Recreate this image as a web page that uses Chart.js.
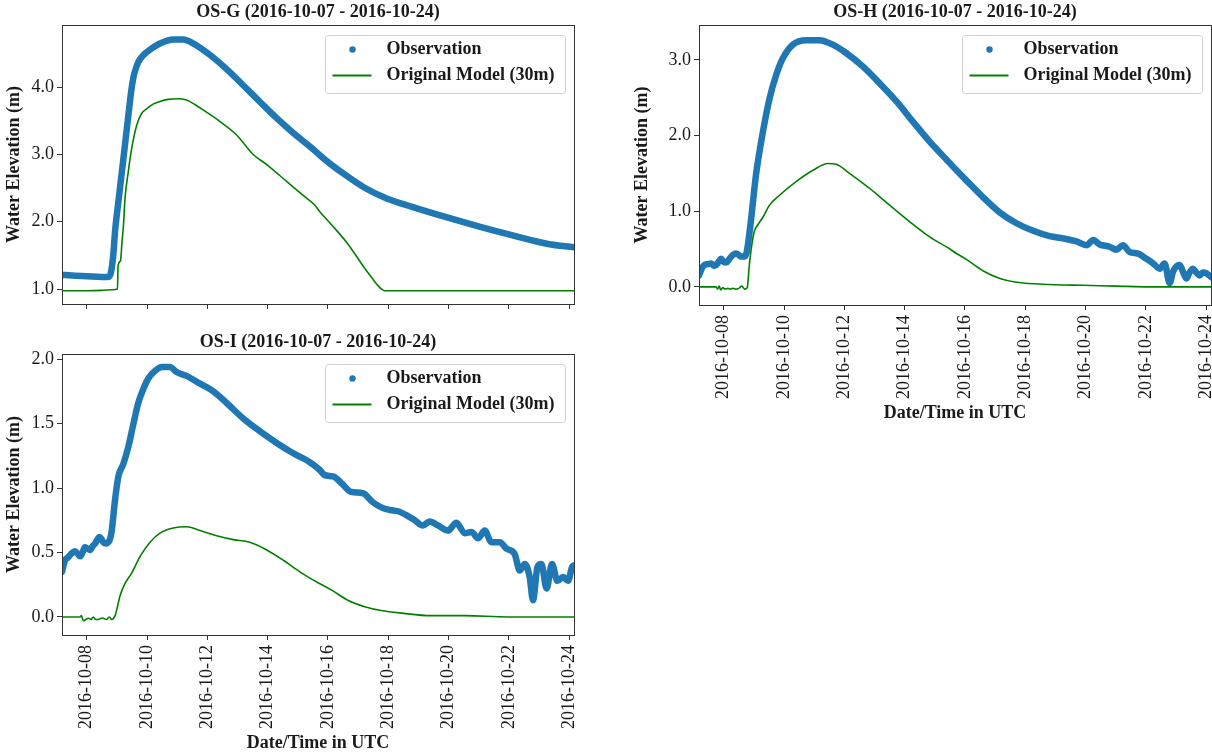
<!DOCTYPE html>
<html>
<head>
<meta charset="utf-8">
<script src="https://cdn.jsdelivr.net/npm/chart.js@4.4.1/dist/chart.umd.min.js"></script>
<style>
  html, body { margin: 0; padding: 0; background: #ffffff; }
  body { width: 1212px; height: 755px; position: relative; overflow: hidden; }
  .panel { position: absolute; }
</style>
</head>
<body>
<div class="panel" style="left:0px;top:0px;width:600px;height:320px"><canvas id="osg"></canvas></div>
<div class="panel" style="left:0px;top:320px;width:600px;height:435px"><canvas id="osi"></canvas></div>
<div class="panel" style="left:600px;top:0px;width:612px;height:425px"><canvas id="osh"></canvas></div>
<script>
// Time axis: days since 2016-10-07 00:00 UTC
const dateTickDays   = [1, 3, 5, 7, 9, 11, 13, 15, 17];
const dateTickLabels = ['2016-10-08', '2016-10-10', '2016-10-12', '2016-10-14', '2016-10-16',
                        '2016-10-18', '2016-10-20', '2016-10-22', '2016-10-24'];
const seriesNames = ['Observation', 'Original Model (30m)'];

// ---- OS-G ----
const osgObsDays  = [0.18, 0.5, 1.0, 1.5, 1.72, 1.80, 1.88, 1.94, 2.05, 2.16, 2.27, 2.38, 2.47, 2.55, 2.66,
                     2.77, 2.93, 3.10, 3.43, 3.87, 4.20, 4.54, 5.09, 5.64, 6.19, 6.75, 7.30, 7.85, 8.40,
                     8.73, 9.11, 9.66, 10.2, 10.93, 11.87, 12.98, 14.08, 15.19, 16.3, 17.16];
const osgObsLevel = [1.21, 1.20, 1.19, 1.18, 1.18, 1.24, 1.50, 1.86, 2.30, 2.72, 3.15, 3.58, 3.92, 4.15, 4.32,
                     4.42, 4.50, 4.56, 4.65, 4.71, 4.71, 4.65, 4.48, 4.27, 4.03, 3.78, 3.54, 3.32, 3.12,
                     2.99, 2.85, 2.67, 2.51, 2.35, 2.21, 2.06, 1.92, 1.79, 1.67, 1.62];
const osgModelDays  = [0.18, 1.0, 1.5, 1.85, 2.02, 2.04, 2.12, 2.17, 2.22, 2.27, 2.38, 2.49, 2.66, 2.82, 2.99,
                       3.20, 3.43, 3.70, 4.04, 4.31, 4.60, 4.87, 5.42, 5.97, 6.52, 6.97, 7.63, 8.29, 8.56,
                       8.73, 9.11, 9.66, 10.2, 10.45, 10.66, 10.80, 10.88, 17.16];
const osgModelLevel = [0.975, 0.975, 0.98, 0.99, 1.00, 1.35, 1.42, 1.70, 1.96, 2.35, 2.75, 3.09, 3.44, 3.61, 3.68,
                       3.75, 3.79, 3.82, 3.83, 3.81, 3.74, 3.66, 3.49, 3.29, 3.00, 2.85, 2.60, 2.35, 2.25,
                       2.15, 1.96, 1.67, 1.32, 1.17, 1.05, 0.99, 0.975, 0.975];
const osgYTicks = [1.0, 2.0, 3.0, 4.0];

// ---- OS-H ----
const oshObsDays  = [0.18, 0.28, 0.36, 0.47, 0.58, 0.68, 0.75, 0.85, 0.91, 1.00, 1.08, 1.19, 1.30, 1.41, 1.50,
                     1.58, 1.68, 1.75, 1.80, 1.91, 2.07, 2.30, 2.52, 2.74, 2.96, 3.29, 3.74, 4.18, 4.62,
                     5.06, 5.62, 6.17, 6.73, 7.28, 7.83, 8.39, 8.72, 9.06, 9.61, 10.16, 10.71, 11.26,
                     11.81, 12.26, 12.70, 13.03, 13.25, 13.47, 13.80, 14.02, 14.24, 14.46, 14.74, 15.02,
                     15.24, 15.46, 15.62, 15.79, 15.90, 16.01, 16.12, 16.23, 16.34, 16.45, 16.56, 16.67,
                     16.78, 16.89, 17.00, 17.16];
const oshObsLevel = [0.15, 0.25, 0.29, 0.30, 0.31, 0.28, 0.29, 0.34, 0.37, 0.33, 0.32, 0.37, 0.42, 0.44, 0.42,
                     0.40, 0.40, 0.44, 0.55, 0.90, 1.48, 2.05, 2.49, 2.80, 3.02, 3.20, 3.26, 3.26, 3.20,
                     3.09, 2.91, 2.69, 2.45, 2.18, 1.92, 1.68, 1.54, 1.40, 1.18, 0.98, 0.84, 0.74,
                     0.67, 0.64, 0.60, 0.55, 0.62, 0.56, 0.53, 0.49, 0.55, 0.46, 0.44, 0.37,
                     0.31, 0.24, 0.31, 0.05, 0.20, 0.27, 0.29, 0.20, 0.11, 0.19, 0.24, 0.19,
                     0.15, 0.19, 0.18, 0.13];
const oshModelDays  = [0.18, 0.75, 0.80, 0.85, 0.90, 0.97, 1.05, 1.13, 1.22, 1.30, 1.40, 1.50, 1.60, 1.70, 1.78,
                       1.85, 1.93, 2.02, 2.13, 2.30, 2.52, 2.85, 3.40, 3.96, 4.46, 4.73, 5.17, 5.84, 6.50,
                       7.17, 7.83, 8.50, 8.72, 9.06, 9.61, 10.16, 10.71, 11.81, 12.92, 14.02, 15.13, 17.16];
const oshModelLevel = [0.0, 0.0, -0.03, 0.01, -0.04, -0.01, -0.03, -0.02, -0.03, -0.02, -0.03, -0.02, 0.01, -0.03, -0.01,
                       0.29, 0.55, 0.74, 0.82, 0.92, 1.08, 1.21, 1.39, 1.54, 1.63, 1.62, 1.50, 1.30, 1.08,
                       0.86, 0.66, 0.50, 0.44, 0.36, 0.21, 0.11, 0.06, 0.03, 0.02, 0.01, 0.0, 0.0];
const oshYTicks = [0.0, 1.0, 2.0, 3.0];

// ---- OS-I ----
const osiObsDays  = [0.18, 0.28, 0.37, 0.45, 0.53, 0.61, 0.70, 0.78, 0.86, 0.94, 1.03, 1.11, 1.20, 1.28, 1.35,
                     1.42, 1.50, 1.55, 1.65, 1.72, 1.78, 1.83, 1.94, 2.05, 2.22, 2.38, 2.55, 2.71, 2.88,
                     3.04, 3.27, 3.49, 3.76, 3.98, 4.31, 4.76, 5.20, 5.64, 6.19, 6.75, 7.30, 7.85, 8.40,
                     8.73, 8.89, 9.17, 9.44, 9.77, 10.16, 10.49, 10.77, 11.05, 11.32, 11.60, 11.88, 12.15,
                     12.37, 12.65, 12.98, 13.26, 13.54, 13.76, 13.98, 14.20, 14.42, 14.70, 14.92, 15.19,
                     15.36, 15.53, 15.69, 15.80, 15.95, 16.08, 16.25, 16.43, 16.61, 16.80, 16.96, 17.10, 17.16];
const osiObsLevel = [0.35, 0.44, 0.46, 0.48, 0.50, 0.51, 0.49, 0.47, 0.50, 0.54, 0.53, 0.52, 0.55, 0.57, 0.60,
                     0.62, 0.60, 0.58, 0.57, 0.58, 0.61, 0.67, 0.91, 1.09, 1.19, 1.32, 1.50, 1.66, 1.77,
                     1.85, 1.91, 1.94, 1.94, 1.90, 1.87, 1.81, 1.75, 1.66, 1.54, 1.44, 1.35, 1.27, 1.20,
                     1.14, 1.10, 1.09, 1.04, 0.97, 0.96, 0.89, 0.85, 0.83, 0.82, 0.79, 0.75, 0.71,
                     0.74, 0.71, 0.67, 0.73, 0.65, 0.66, 0.61, 0.67, 0.58, 0.58, 0.53, 0.49,
                     0.36, 0.41, 0.31, 0.13, 0.39, 0.41, 0.22, 0.41, 0.28, 0.31, 0.28, 0.39, 0.40];
const osiModelDays  = [0.18, 0.78, 0.82, 0.89, 0.97, 1.06, 1.14, 1.22, 1.30, 1.39, 1.47, 1.55, 1.65, 1.75, 1.83,
                       1.94, 2.02, 2.10, 2.27, 2.49, 2.77, 3.10, 3.43, 3.87, 4.31, 4.76, 5.31, 5.86, 6.41,
                       6.97, 7.52, 8.07, 8.56, 9.11, 9.66, 10.22, 10.77, 11.43, 12.43, 13.54, 14.97, 17.16];
const osiModelLevel = [0.0, 0.0, 0.01, -0.03, -0.02, -0.01, -0.02, 0.0, -0.02, -0.02, -0.01, -0.01, -0.02, 0.0, -0.02,
                       0.01, 0.08, 0.16, 0.26, 0.34, 0.47, 0.58, 0.65, 0.69, 0.70, 0.67, 0.63, 0.60, 0.58,
                       0.52, 0.44, 0.35, 0.28, 0.21, 0.13, 0.08, 0.05, 0.03, 0.01, 0.01, 0.0, 0.0];
const osiYTicks = [0.0, 0.5, 1.0, 1.5, 2.0];

const INK = '#1a1a1a';
const OBS_BLUE = '#1f77b4';
const MODEL_GREEN = '#008000';
const SERIF = "'Liberation Serif', 'Times New Roman', serif";
Chart.defaults.font.family = SERIF;
Chart.defaults.color = INK;

// Axes frame on all four sides plus a boxed key in the upper-right corner
const frameAndKey = {
  id: 'frameAndKey',
  afterDraw(chart) {
    const ctx = chart.ctx;
    const a = chart.chartArea;
    ctx.save();
    ctx.strokeStyle = '#333333';
    ctx.lineWidth = 1;
    ctx.strokeRect(Math.round(a.left) + 0.5, Math.round(a.top) + 0.5,
                   Math.round(a.right - a.left), Math.round(a.bottom - a.top));

    const w = 240, h = 58;
    const x0 = Math.round(a.right) - 9 - w + 0.5;
    const y0 = Math.round(a.top) + 10 + 0.5;
    ctx.beginPath();
    ctx.roundRect(x0, y0, w, h, 3);
    ctx.fillStyle = 'rgba(255,255,255,0.8)';
    ctx.fill();
    ctx.strokeStyle = '#d0d0d0';
    ctx.stroke();

    const ds = chart.data.datasets;
    ctx.beginPath();
    ctx.arc(x0 + 27, y0 + 14, 3.2, 0, Math.PI * 2);
    ctx.fillStyle = OBS_BLUE;
    ctx.fill();
    ctx.beginPath();
    ctx.moveTo(x0 + 7, y0 + 40);
    ctx.lineTo(x0 + 46, y0 + 40);
    ctx.strokeStyle = MODEL_GREEN;
    ctx.lineWidth = 2;
    ctx.stroke();

    ctx.fillStyle = INK;
    ctx.font = 'bold 18px ' + SERIF;
    ctx.textBaseline = 'middle';
    ctx.textAlign = 'left';
    ctx.fillText(ds[0].label, x0 + 61, y0 + 14);
    ctx.fillText(ds[1].label, x0 + 61, y0 + 40);
    ctx.restore();
  }
};

function toPoints(days, level) {
  return days.map((d, i) => ({ x: d, y: level[i] }));
}

function makeChart(id, o) {
  return new Chart(document.getElementById(id), {
    type: 'line',
    data: {
      datasets: [
        {
          label: seriesNames[0],
          data: toPoints(o.obsDays, o.obsLevel),
          borderColor: OBS_BLUE,
          borderWidth: 6.5,
          borderCapStyle: 'round',
          borderJoinStyle: 'round',
          pointRadius: 0,
          cubicInterpolationMode: 'monotone',
          clip: 0,
          order: 2
        },
        {
          label: seriesNames[1],
          data: toPoints(o.modelDays, o.modelLevel),
          borderColor: MODEL_GREEN,
          borderWidth: 1.6,
          pointRadius: 0,
          cubicInterpolationMode: 'monotone',
          clip: 0,
          order: 1
        }
      ]
    },
    options: {
      responsive: true,
      maintainAspectRatio: false,
      animation: false,
      devicePixelRatio: 1,
      events: [],
      layout: { padding: { left: 0, right: o.padRight, top: 0, bottom: 0 } },
      plugins: {
        legend: { display: false },
        tooltip: { enabled: false },
        title: {
          display: true,
          text: o.title,
          fullSize: false,
          color: INK,
          font: { size: 18, weight: 'bold', family: SERIF, lineHeight: 1.2 },
          padding: { top: o.titleTop, bottom: o.titleBottom }
        }
      },
      scales: {
        x: {
          type: 'linear',
          min: 0.18,
          max: 17.16,
          afterBuildTicks: s => { s.ticks = dateTickDays.map(v => ({ value: v })); },
          afterFit: s => { s.height = o.xHeight; s.paddingLeft = 0; s.paddingRight = 0; },
          border: { display: false },
          grid: { drawOnChartArea: false, drawTicks: true, tickLength: 5, color: '#333333' },
          ticks: {
            autoSkip: false,
            minRotation: 90,
            maxRotation: 90,
            padding: 5,
            color: INK,
            font: { size: 18, family: SERIF },
            callback: (v) => o.showDates ? dateTickLabels[dateTickDays.indexOf(v)] : ''
          },
          title: {
            display: o.showDates,
            text: 'Date/Time in UTC',
            color: INK,
            font: { size: 18, weight: 'bold', family: SERIF, lineHeight: 1.2 },
            padding: { top: 0, bottom: 1 }
          }
        },
        y: {
          type: 'linear',
          min: o.yMin,
          max: o.yMax,
          afterBuildTicks: s => { s.ticks = o.yTicks.map(v => ({ value: v })); },
          afterFit: s => { s.width = o.yWidth; s.paddingTop = 0; s.paddingBottom = 0; },
          border: { display: false },
          grid: { drawOnChartArea: false, drawTicks: true, tickLength: 5, color: '#333333' },
          ticks: {
            padding: 3,
            color: INK,
            font: { size: 18, family: SERIF },
            callback: (v) => Number(v).toFixed(1)
          },
          title: {
            display: true,
            text: 'Water Elevation (m)',
            color: INK,
            font: { size: 18, weight: 'bold', family: SERIF, lineHeight: 1.2 },
            padding: { top: o.yTitlePad, bottom: 0 }
          }
        }
      }
    },
    plugins: [frameAndKey]
  });
}

makeChart('osg', {
  title: 'OS-G (2016-10-07 - 2016-10-24)',
  obsDays: osgObsDays, obsLevel: osgObsLevel,
  modelDays: osgModelDays, modelLevel: osgModelLevel,
  yMin: 0.777, yMax: 4.926, yTicks: osgYTicks,
  showDates: false, xHeight: 16, yWidth: 62, yTitlePad: 4,
  titleTop: 2, titleBottom: 1.4, padRight: 26
});

makeChart('osi', {
  title: 'OS-I (2016-10-07 - 2016-10-24)',
  obsDays: osiObsDays, obsLevel: osiObsLevel,
  modelDays: osiModelDays, modelLevel: osiModelLevel,
  yMin: -0.14, yMax: 2.04, yTicks: osiYTicks,
  showDates: true, xHeight: 120, yWidth: 62, yTitlePad: 4,
  titleTop: 11.2, titleBottom: 1.2, padRight: 26
});

makeChart('osh', {
  title: 'OS-H (2016-10-07 - 2016-10-24)',
  obsDays: oshObsDays, obsLevel: oshObsLevel,
  modelDays: oshModelDays, modelLevel: oshModelLevel,
  yMin: -0.24, yMax: 3.46, yTicks: oshYTicks,
  showDates: true, xHeight: 120, yWidth: 99, yTitlePad: 32,
  titleTop: 2, titleBottom: 1.4, padRight: 1
});
</script>
</body>
</html>
